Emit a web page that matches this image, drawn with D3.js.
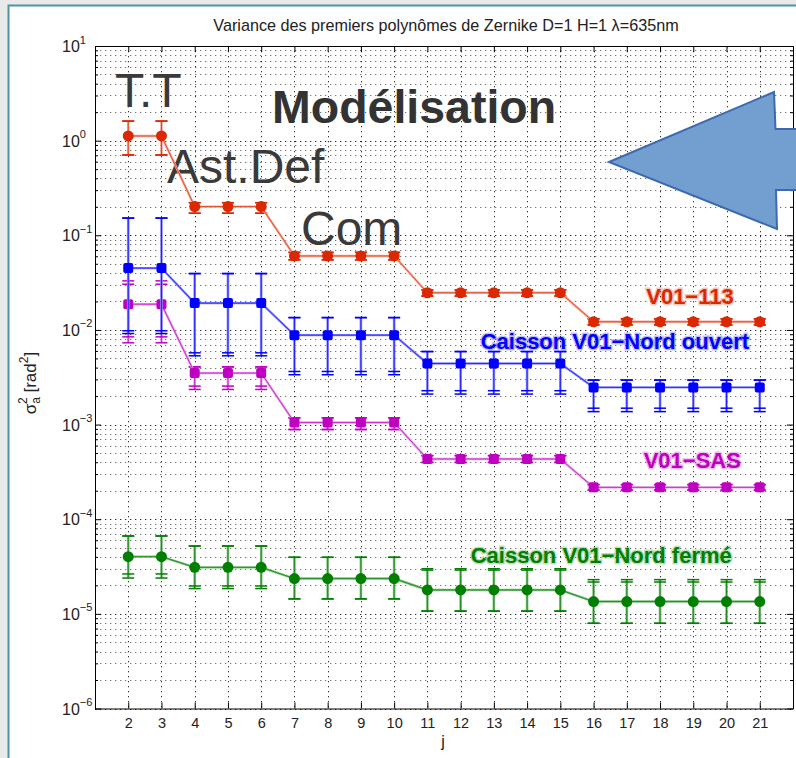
<!DOCTYPE html>
<html>
<head>
<meta charset="utf-8">
<script src="https://cdn.jsdelivr.net/npm/d3@7"></script>
<style>
  body { margin: 0; background: #e9e9e9; }
  text { font-family: "Liberation Sans", Arial, sans-serif; }
</style>
</head>
<body>
<div id="chart"></div>
<script>
// Zernike mode index
const jIndex = [2, 3, 4, 5, 6, 7, 8, 9, 10, 11, 12, 13, 14, 15, 16, 17, 18, 19, 20, 21];

// V01-113 (red)
const v113 = [1.12, 1.12, 0.201, 0.201, 0.201, 0.0605, 0.0605, 0.0605, 0.0605, 0.0247, 0.0247, 0.0247, 0.0247, 0.0247, 0.0122, 0.0122, 0.0122, 0.0122, 0.0122, 0.0122];
const v113Hi = [1.61, 1.61, 0.221, 0.221, 0.221, 0.066, 0.066, 0.066, 0.066, 0.0265, 0.0265, 0.0265, 0.0265, 0.0265, 0.0131, 0.0131, 0.0131, 0.0131, 0.0131, 0.0131];
const v113Lo = [0.706, 0.706, 0.171, 0.171, 0.171, 0.055, 0.055, 0.055, 0.055, 0.0228, 0.0228, 0.0228, 0.0228, 0.0228, 0.0113, 0.0113, 0.0113, 0.0113, 0.0113, 0.0113];

// Caisson V01-Nord ouvert (blue)
const ouvert = [0.045, 0.045, 0.0192, 0.0192, 0.0192, 0.00881, 0.00881, 0.00881, 0.00881, 0.00442, 0.00442, 0.00442, 0.00442, 0.00442, 0.00247, 0.00247, 0.00247, 0.00247, 0.00247, 0.00247];
const ouvertHi = [0.152, 0.152, 0.0394, 0.0394, 0.0394, 0.0135, 0.0135, 0.0135, 0.0135, 0.00591, 0.00591, 0.00591, 0.00591, 0.00591, 0.00295, 0.00295, 0.00295, 0.00295, 0.00295, 0.00295];
const ouvertLo = [0.0098, 0.0098, 0.00573, 0.00573, 0.00573, 0.00364, 0.00364, 0.00364, 0.00364, 0.00228, 0.00228, 0.00228, 0.00228, 0.00228, 0.00149, 0.00149, 0.00149, 0.00149, 0.00149, 0.00149];
const ouvertLo2 = [0.00916, 0.00916, 0.00533, 0.00533, 0.00533, 0.00336, 0.00336, 0.00336, 0.00336, 0.0021, 0.0021, 0.0021, 0.0021, 0.0021, 0.00137, 0.00137, 0.00137, 0.00137, 0.00137, 0.00137];

// V01-SAS (magenta)
const sas = [0.0187, 0.0187, 0.0035, 0.0035, 0.0035, 0.00105, 0.00105, 0.00105, 0.00105, 0.000433, 0.000433, 0.000433, 0.000433, 0.000433, 0.000217, 0.000217, 0.000217, 0.000217, 0.000217, 0.000217];
const sasHi = [0.033, 0.033, 0.00407, 0.00407, 0.00407, 0.00118, 0.00118, 0.00118, 0.00118, 0.00047, 0.00047, 0.00047, 0.00047, 0.00047, 0.000232, 0.000232, 0.000232, 0.000232, 0.000232, 0.000232];
const sasHi2 = [0.0304, 0.0304, 0.00407, 0.00407, 0.00407, 0.00118, 0.00118, 0.00118, 0.00118, 0.00047, 0.00047, 0.00047, 0.00047, 0.00047, 0.000232, 0.000232, 0.000232, 0.000232, 0.000232, 0.000232];
const sasLo = [0.00845, 0.00845, 0.00255, 0.00255, 0.00255, 0.000887, 0.000887, 0.000887, 0.000887, 0.000398, 0.000398, 0.000398, 0.000398, 0.000398, 0.000203, 0.000203, 0.000203, 0.000203, 0.000203, 0.000203];
const sasLo2 = [0.00731, 0.00731, 0.00235, 0.00235, 0.00235, 0.000887, 0.000887, 0.000887, 0.000887, 0.000398, 0.000398, 0.000398, 0.000398, 0.000398, 0.000203, 0.000203, 0.000203, 0.000203, 0.000203, 0.000203];

// Caisson V01-Nord fermé (green)
const ferme = [4.02e-5, 4.02e-5, 3.1e-5, 3.1e-5, 3.1e-5, 2.36e-5, 2.36e-5, 2.36e-5, 2.36e-5, 1.79e-5, 1.79e-5, 1.79e-5, 1.79e-5, 1.79e-5, 1.35e-5, 1.35e-5, 1.35e-5, 1.35e-5, 1.35e-5, 1.35e-5];
const fermeHi = [6.65e-5, 6.65e-5, 5.21e-5, 5.21e-5, 5.21e-5, 3.96e-5, 3.96e-5, 3.96e-5, 3.96e-5, 3.0e-5, 3.0e-5, 3.0e-5, 3.0e-5, 3.0e-5, 2.3e-5, 2.3e-5, 2.3e-5, 2.3e-5, 2.3e-5, 2.3e-5];
const fermeHi2 = [6.65e-5, 6.65e-5, 5.21e-5, 5.21e-5, 5.21e-5, 3.96e-5, 3.96e-5, 3.96e-5, 3.96e-5, 2.9e-5, 2.9e-5, 2.9e-5, 2.9e-5, 2.9e-5, 2.17e-5, 2.17e-5, 2.17e-5, 2.17e-5, 2.17e-5, 2.17e-5];
const fermeLo = [2.64e-5, 2.64e-5, 1.97e-5, 1.97e-5, 1.97e-5, 1.44e-5, 1.44e-5, 1.44e-5, 1.44e-5, 1.07e-5, 1.07e-5, 1.07e-5, 1.07e-5, 1.07e-5, 7.95e-6, 7.95e-6, 7.95e-6, 7.95e-6, 7.95e-6, 7.95e-6];
const fermeLo2 = [2.39e-5, 2.39e-5, 1.85e-5, 1.85e-5, 1.85e-5, 1.44e-5, 1.44e-5, 1.44e-5, 1.44e-5, 1.07e-5, 1.07e-5, 1.07e-5, 1.07e-5, 1.07e-5, 7.95e-6, 7.95e-6, 7.95e-6, 7.95e-6, 7.95e-6, 7.95e-6];

const decades = [1e-6, 1e-5, 1e-4, 1e-3, 1e-2, 1e-1, 1, 10];
const decadeExp = ["\u22126", "\u22125", "\u22124", "\u22123", "\u22122", "\u22121", "0", "1"];

const W = 796, H = 758;
const plot = {left: 95, right: 793, top: 46, bottom: 708.5};

const svg = d3.select("#chart").append("svg")
    .attr("width", W)
    .attr("height", H);

// slide panel
svg.append("rect")
    .attr("x", 8.5).attr("y", 5.5)
    .attr("width", 820).attr("height", 800)
    .attr("fill", "#fff")
    .attr("stroke", "#4f94a7")
    .attr("stroke-width", 2);

const x = d3.scaleLinear().domain([1, 22]).range([plot.left, plot.right]);
const y = d3.scaleLog().domain([1e-6, 10]).range([plot.bottom, plot.top]);

// grid
const gridG = svg.append("g");
const allY = y.ticks();
gridG.selectAll(".hgrid")
    .data(allY)
    .enter().append("line")
    .attr("x1", plot.left).attr("x2", plot.right)
    .attr("y1", d => Math.round(y(d)) + 0.5)
    .attr("y2", d => Math.round(y(d)) + 0.5)
    .attr("stroke", "#000")
    .attr("stroke-opacity", d => decades.includes(d) ? 0.85 : 0.55)
    .attr("stroke-dasharray", "1.3,3.7");
gridG.selectAll(".vgrid")
    .data(jIndex)
    .enter().append("line")
    .attr("x1", d => Math.round(x(d)) + 0.5)
    .attr("x2", d => Math.round(x(d)) + 0.5)
    .attr("y1", plot.top).attr("y2", plot.bottom)
    .attr("stroke", "#000")
    .attr("stroke-opacity", 0.8)
    .attr("stroke-dasharray", "1.3,3.7");

// axes (MATLAB style box with inward ticks)
const minorY = allY.filter(d => !decades.includes(d));

const xAxis = d3.axisBottom(x).tickValues(jIndex).tickSize(-6).tickSizeOuter(0).tickPadding(9);
const gx = svg.append("g")
    .attr("transform", "translate(0," + plot.bottom + ")")
    .call(xAxis);
gx.selectAll("text").attr("font-size", 14.5).attr("fill", "#222")
    .style("font-family", "'Liberation Sans', Arial, sans-serif");

svg.append("g")
    .attr("transform", "translate(0," + plot.top + ")")
    .call(d3.axisTop(x).tickValues(jIndex).tickSize(-6).tickSizeOuter(0).tickFormat(""));

svg.append("g")
    .attr("transform", "translate(" + plot.left + ",0)")
    .call(d3.axisLeft(y).tickValues(decades).tickSize(-6).tickSizeOuter(0).tickFormat(""));
svg.append("g")
    .attr("transform", "translate(" + plot.left + ",0)")
    .call(d3.axisLeft(y).tickValues(minorY).tickSize(-3).tickSizeOuter(0).tickFormat(""));
svg.append("g")
    .attr("transform", "translate(" + plot.right + ",0)")
    .call(d3.axisRight(y).tickValues(decades).tickSize(-6).tickSizeOuter(0).tickFormat(""));
svg.append("g")
    .attr("transform", "translate(" + plot.right + ",0)")
    .call(d3.axisRight(y).tickValues(minorY).tickSize(-3).tickSizeOuter(0).tickFormat(""));

svg.selectAll(".domain").attr("stroke", "#000");

// y tick labels 10^n
const yLab = svg.append("g").selectAll("text")
    .data(decades)
    .enter().append("text")
    .attr("x", 62)
    .attr("y", d => y(d) + 6)
    .attr("font-size", 16)
    .attr("fill", "#222");
yLab.append("tspan").text("10");
yLab.append("tspan")
    .attr("dy", -8.5)
    .attr("font-size", 11)
    .text((d, i) => decadeExp[i]);

// axis labels and title
svg.append("text")
    .attr("x", 446).attr("y", 31)
    .attr("text-anchor", "middle")
    .attr("font-size", 16.2)
    .attr("fill", "#222")
    .text("Variance des premiers polynômes de Zernike D=1 H=1 λ=635nm");

svg.append("text")
    .attr("x", 443).attr("y", 747)
    .attr("text-anchor", "middle")
    .attr("font-size", 16)
    .attr("fill", "#222")
    .text("j");

const yTitle = svg.append("text")
    .attr("transform", "translate(36,383) rotate(-90)")
    .attr("text-anchor", "middle")
    .attr("font-size", 17)
    .attr("fill", "#222");
yTitle.append("tspan").text("σ");
yTitle.append("tspan").attr("font-size", 12).attr("dy", 4).text("a");
yTitle.append("tspan").attr("font-size", 12).attr("dx", -7).attr("dy", -13).text("2");
yTitle.append("tspan").attr("dy", 9).text(" [rad");
yTitle.append("tspan").attr("font-size", 12).attr("dy", -8).text("2");
yTitle.append("tspan").attr("dy", 8).text("]");

// big annotations
const notes = svg.append("g").attr("fill", "#3a3a3a");
notes.append("text").attr("x", 115).attr("y", 107).attr("font-size", 48).text("T.T");
notes.append("text").attr("x", 167).attr("y", 183).attr("font-size", 48).text("Ast.Def");
notes.append("text").attr("x", 301).attr("y", 245).attr("font-size", 48).text("Com");
notes.append("text").attr("x", 272).attr("y", 123).attr("font-size", 46.5)
    .attr("font-weight", "bold").attr("fill", "#333").text("Modélisation");

// series
const series = [
    {val: ferme, hi: fermeHi, hi2: fermeHi2, lo: fermeLo, lo2: fermeLo2, color: "#007f00", light: "#7cc07c", square: false},
    {val: sas, hi: sasHi, hi2: sasHi2, lo: sasLo, lo2: sasLo2, color: "#c000c0", light: "#e89ae8", square: true},
    {val: ouvert, hi: ouvertHi, hi2: ouvertHi, lo: ouvertLo, lo2: ouvertLo2, color: "#0000ff", light: "#8a8aff", square: true},
    {val: v113, hi: v113Hi, hi2: v113Hi, lo: v113Lo, lo2: v113Lo, color: "#dc2800", light: "#f4a898", square: false}
];

const line = d3.line().x(d => x(d.j)).y(d => y(d.v));

series.forEach(function(s) {
    let pts = jIndex.map((j, i) => ({j: j, v: s.val[i], hi: s.hi[i], hi2: s.hi2[i], lo: s.lo[i], lo2: s.lo2[i]}));
    let g = svg.append("g");

    // error bars
    g.selectAll(".ebar").data(pts).enter().append("line")
        .attr("x1", d => x(d.j)).attr("x2", d => x(d.j))
        .attr("y1", d => y(d.hi)).attr("y2", d => y(Math.min(d.lo, d.lo2)))
        .attr("stroke", s.light).attr("stroke-width", 2.6);
    g.selectAll(".ebar2").data(pts).enter().append("line")
        .attr("x1", d => x(d.j)).attr("x2", d => x(d.j))
        .attr("y1", d => y(d.hi)).attr("y2", d => y(Math.min(d.lo, d.lo2)))
        .attr("stroke", s.color).attr("stroke-width", 0.8);
    ["hi", "hi2", "lo", "lo2"].forEach(function(k) {
        g.selectAll(".cap-" + k).data(pts).enter().append("line")
            .attr("x1", d => x(d.j) - 6).attr("x2", d => x(d.j) + 6)
            .attr("y1", d => y(d[k])).attr("y2", d => y(d[k]))
            .attr("stroke", s.color).attr("stroke-width", 1.5);
    });

    // connecting line
    g.append("path").datum(pts)
        .attr("d", line).attr("fill", "none")
        .attr("stroke", s.light).attr("stroke-width", 2.4);
    g.append("path").datum(pts)
        .attr("d", line).attr("fill", "none")
        .attr("stroke", s.color).attr("stroke-width", 0.7);

    // markers
    if (s.square) {
        g.selectAll(".mk").data(pts).enter().append("rect")
            .attr("x", d => x(d.j) - 5).attr("y", d => y(d.v) - 5)
            .attr("width", 10).attr("height", 10).attr("rx", 2)
            .attr("fill", s.color);
    } else {
        g.selectAll(".mk").data(pts).enter().append("circle")
            .attr("cx", d => x(d.j)).attr("cy", d => y(d.v))
            .attr("r", 5.5)
            .attr("fill", s.color);
    }
});

// series labels
const labels = [
    {text: "V01\u2212113", j: 18.9, v: 0.0189, color: "#dc2800"},
    {text: "Caisson V01\u2212Nord ouvert", j: 16.64, v: 0.0063, color: "#0000ff"},
    {text: "V01\u2212SAS", j: 18.97, v: 0.00035, color: "#c000c0"},
    {text: "Caisson V01\u2212Nord fermé", j: 16.23, v: 3.47e-5, color: "#007f00"}
];
svg.append("g").selectAll("text")
    .data(labels)
    .enter().append("text")
    .attr("x", d => x(d.j))
    .attr("y", d => y(d.v))
    .attr("text-anchor", "middle")
    .attr("font-size", 22)
    .attr("font-weight", "bold")
    .attr("fill", d => d.color)
    .attr("stroke", d => d.color)
    .attr("stroke-opacity", 0.25)
    .attr("stroke-width", 3)
    .attr("paint-order", "stroke")
    .text(d => d.text);

// block arrow pointing left
svg.append("polygon")
    .attr("points", [[609, 162], [774, 92], [775.5, 129], [830, 129], [830, 190], [776, 190], [777, 229]].map(p => p.join(",")).join(" "))
    .attr("fill", "#729fd0")
    .attr("stroke", "#3d69b1")
    .attr("stroke-width", 2)
    .attr("stroke-linejoin", "miter");
</script>
</body>
</html>
